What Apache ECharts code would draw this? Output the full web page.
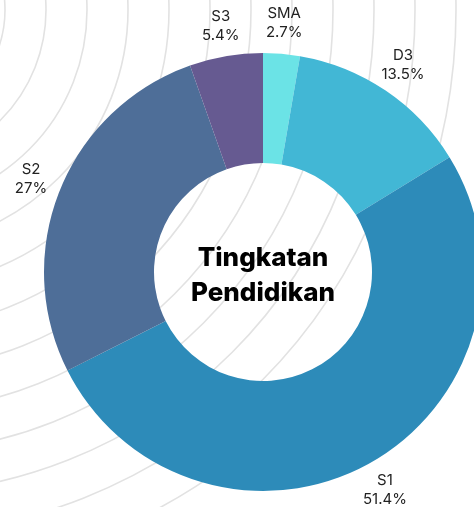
<!DOCTYPE html>
<html>
<head>
<meta charset="utf-8">
<script src="https://cdn.jsdelivr.net/npm/echarts@6/dist/echarts.min.js"></script>
<style>
  html, body { margin: 0; padding: 0; background: #fff; }
  #chart { width: 474px; height: 507px; }
</style>
</head>
<body>
<div id="chart"></div>
<script>
// jumlah per tingkat pendidikan (searah jarum jam dari atas)
const categories = ['SMA', 'D3', 'S1', 'S2', 'S3'];
const counts = [1, 5, 19, 10, 2];
const colors = ['#6be3e6', '#42b7d5', '#2d8bb9', '#4e6e98', '#665a91'];
const title = 'Tingkatan\nPendidikan';

const pieData = categories.map((name, i) => ({
  name: name,
  value: counts[i],
  itemStyle: { color: colors[i] }
}));

// garis lingkaran dekoratif di latar belakang
const rings = [];
for (let k = 0; k < 12; k++) {
  rings.push({
    type: 'circle',
    shape: { cx: -110, cy: 10, r: 115 + 41 * k },
    style: { fill: 'none', stroke: '#e2e2e2', lineWidth: 1.6 },
    silent: true
  });
}

const myChart = echarts.init(document.getElementById('chart'));
myChart.setOption({
  animation: false,
  graphic: [
    { type: 'group', z: -10, children: rings },
    {
      type: 'text',
      z: 100,
      style: {
        x: 263, y: 276,
        text: title,
        align: 'center',
        verticalAlign: 'middle',
        font: '800 26px Inter, "Noto Sans", sans-serif',
        lineHeight: 35,
        fill: '#000'
      }
    }
  ],
  series: [
    {
      name: 'pendidikan',
      type: 'pie',
      center: [263, 272],
      radius: [109, 219],
      startAngle: 90,
      clockwise: true,
      label: { show: false },
      labelLine: { show: false },
      data: pieData
    },
    {
      // cincin transparan hanya untuk label
      name: 'label',
      type: 'pie',
      silent: true,
      center: [263, 272],
      radius: [219, 275],
      startAngle: 90,
      clockwise: true,
      percentPrecision: 1,
      itemStyle: { color: 'transparent' },
      label: {
        show: true,
        position: 'inside',
        formatter: '{b}\n{d}%',
        color: '#222',
        fontSize: 15,
        lineHeight: 19,
        fontFamily: 'Inter, "Noto Sans", sans-serif'
      },
      labelLine: { show: false },
      data: categories.map((name, i) => ({ name: name, value: counts[i] }))
    }
  ]
});
</script>
</body>
</html>
